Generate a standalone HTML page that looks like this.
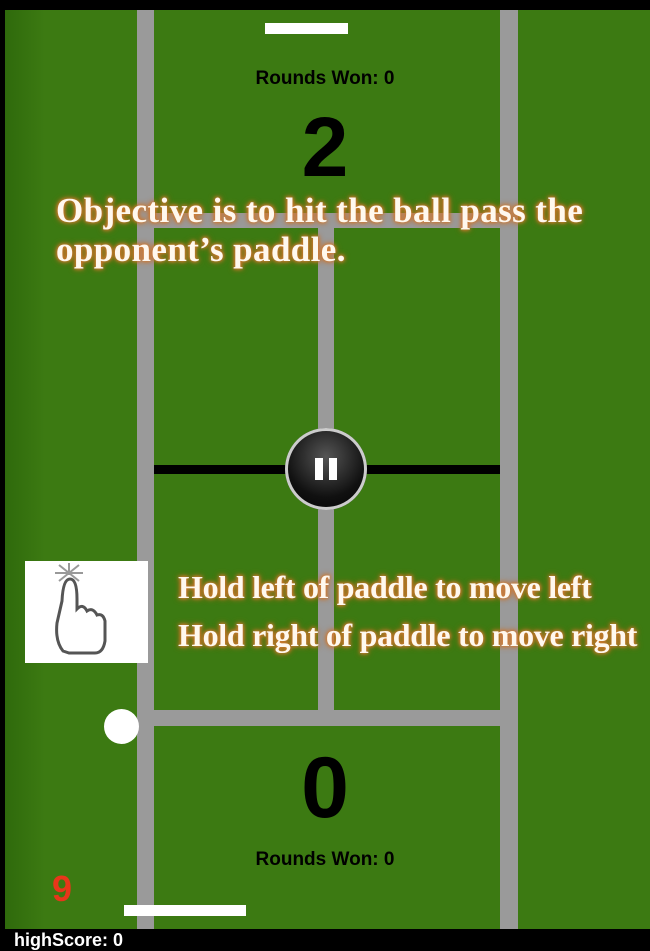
<!DOCTYPE html>
<html><head><meta charset="utf-8"><style>
body{margin:0;width:650px;height:950px;background:#000;overflow:hidden;font-family:"Liberation Sans",sans-serif}
.a{position:absolute}
.tip{color:#fff8ee;font-family:"Liberation Serif",serif;font-weight:bold;text-shadow:0 0 3px #d07a30,0 0 5px #d07a30,0 0 7px #c86a20;white-space:nowrap}
.rw{font-size:19px;font-weight:bold;color:#000;width:650px;text-align:center;left:0}
</style></head><body>
<div class="a" style="left:5px;top:10px;width:645px;height:919px;background:linear-gradient(90deg,#2f6a0c 0px,#3c7a12 40px,#3c7a12 100%)"></div>
<div class="a" style="left:137px;top:10px;width:17px;height:919px;background:#9a9a9a"></div>
<div class="a" style="left:500px;top:10px;width:18px;height:919px;background:#9a9a9a"></div>
<div class="a" style="left:154px;top:213px;width:346px;height:15px;background:#9a9a9a"></div>
<div class="a" style="left:154px;top:710px;width:346px;height:16px;background:#9a9a9a"></div>
<div class="a" style="left:318px;top:213px;width:16px;height:513px;background:#9a9a9a"></div>
<div class="a" style="left:154px;top:465px;width:346px;height:9px;background:#000"></div>
<div class="a" style="left:265px;top:23px;width:83px;height:11px;background:#fff"></div>
<div class="a" style="left:124px;top:905px;width:122px;height:11px;background:#fff"></div>
<div class="a rw" style="top:68px">Rounds Won: 0</div>
<div class="a" style="left:0;width:650px;text-align:center;top:105px;font-size:84px;font-weight:bold;line-height:84px">2</div>
<div class="a tip" style="left:56px;top:191px;font-size:35px;line-height:39px;letter-spacing:0.4px">Objective is to hit the ball pass the<br>opponent’s paddle.</div>
<div class="a" style="left:285px;top:428px;width:82px;height:82px;border-radius:50%;background:radial-gradient(circle at 50% 35%,#555,#111 60%,#000);box-shadow:0 0 0 3px #ccc inset"><div class="a" style="left:30px;top:30px;width:8px;height:22px;background:#fff"></div><div class="a" style="left:44px;top:30px;width:8px;height:22px;background:#fff"></div></div>
<div class="a" style="left:25px;top:561px;width:123px;height:102px;background:#fff">
<svg width="123" height="102"><g stroke="#555" stroke-width="3" fill="none"><path d="M38 90 Q30 80 32 62 L37 40 Q38 18 45 18 Q52 18 52 38 L52 48 Q58 42 62 50 Q68 46 72 54 Q78 52 80 60 L80 80 Q78 92 70 92 L44 92 Z"/></g><g stroke="#999" stroke-width="2"><line x1="44" y1="2" x2="44" y2="14"/><line x1="30" y1="12" x2="58" y2="12"/><line x1="34" y1="4" x2="54" y2="20"/><line x1="54" y1="4" x2="34" y2="20"/></g></svg></div>
<div class="a tip" style="left:178px;top:563px;font-size:32px;line-height:48px;letter-spacing:-0.3px">Hold left of paddle to move left<br>Hold right of paddle to move right</div>
<div class="a" style="left:104px;top:709px;width:35px;height:35px;border-radius:50%;background:#fff"></div>
<div class="a" style="left:0;width:650px;text-align:center;top:745px;font-size:86px;font-weight:bold;line-height:86px">0</div>
<div class="a rw" style="top:849px">Rounds Won: 0</div>
<div class="a" style="left:52px;top:868px;font-size:36px;font-weight:bold;color:#e8361a">9</div>
<div class="a" style="left:14px;top:930px;font-size:18px;font-weight:bold;color:#fff">highScore: 0</div>
</body></html>
